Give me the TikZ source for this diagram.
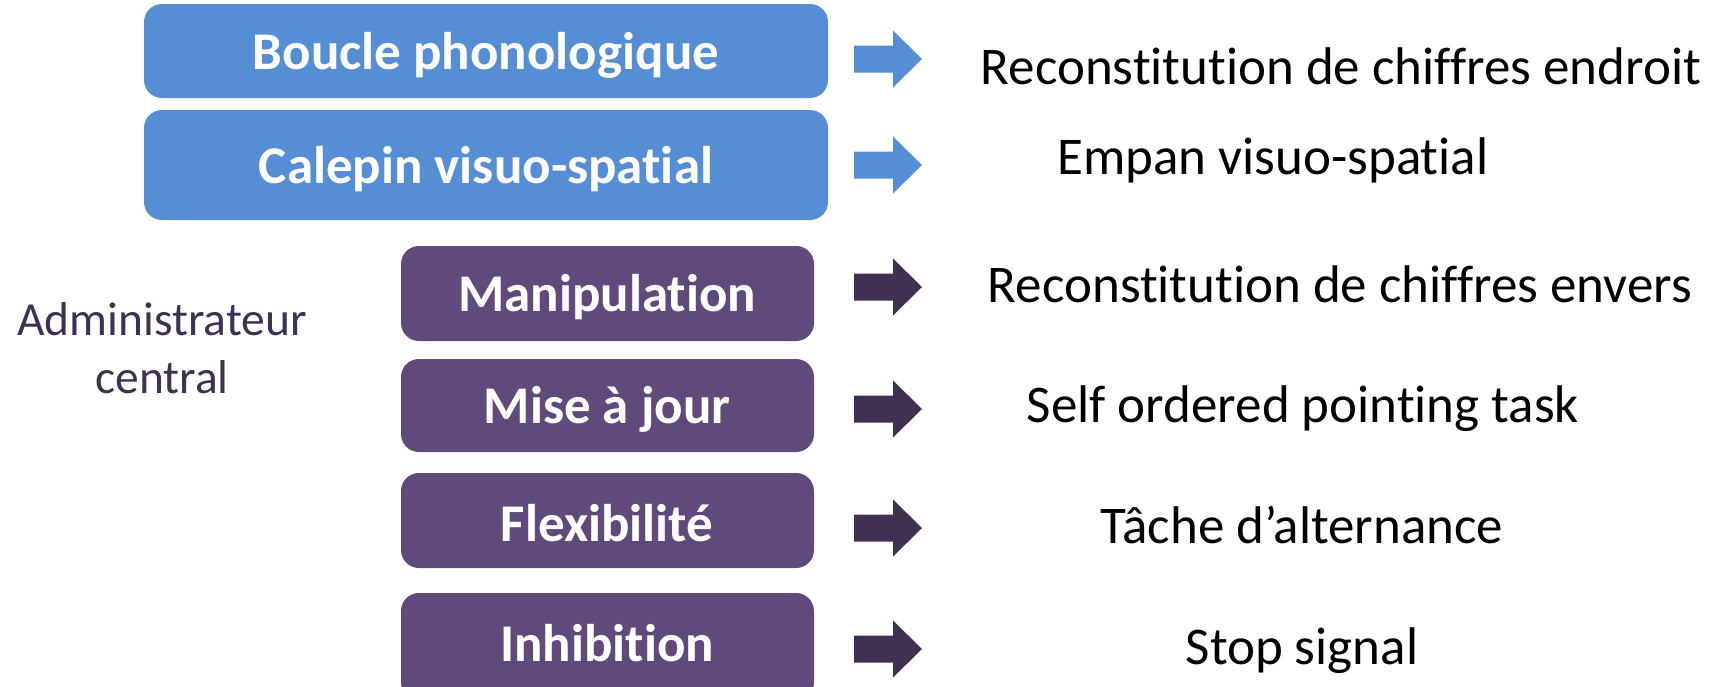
\documentclass[tikz,border=0pt]{standalone}
\usepackage{fontspec}
\setmainfont{Carlito}[Ligatures=NoCommon]
\definecolor{boxblue}{HTML}{558ED5}
\definecolor{boxpurple}{HTML}{604A7B}
\definecolor{darkpurple}{HTML}{403152}
\tikzset{
  bluebox/.style={fill=boxblue, rounded corners=18pt},
  purplebox/.style={fill=boxpurple, rounded corners=18pt},
  boxtext/.style={text=white, font=\fontsize{53}{64}\selectfont\bfseries, inner sep=0pt},
  tasktext/.style={text=black, font=\fontsize{53}{64}\selectfont, inner sep=0pt},
  admintext/.style={text=darkpurple, font=\fontsize{47.5}{58}\selectfont, align=center, inner sep=0pt},
  pics/blockarrow/.style={code={
    \fill[#1] (0,-13.5) -- (39,-13.5) -- (39,-28.5) -- (68,0) -- (39,28.5) -- (39,13.5) -- (0,13.5) -- cycle;
  }}
}
\begin{document}
\begin{tikzpicture}[x=1pt,y=-1pt]
\useasboundingbox (0,0) rectangle (1725,686);
% blue boxes
\draw[bluebox, draw=none] (144,4) rectangle (828,98);
\node[boxtext] (b1) at (486,55.5) {Boucle phonologique};
\draw[bluebox, draw=none] (144,110) rectangle (828,220);
\node[boxtext] (b2) at (486,169.5) {Calepin visuo-spatial};
% purple boxes
\draw[purplebox, draw=none] (401,246) rectangle (814,341);
\node[boxtext] (p1) at (607,297.5) {Manipulation};
\draw[purplebox, draw=none] (401,359) rectangle (814,452);
\node[boxtext] (p2) at (607,409.5) {Mise à jour};
\draw[purplebox, draw=none] (401,473) rectangle (814,568);
\node[boxtext] (p3) at (607,523) {Flexibilité};
\draw[purplebox, draw=none] (401,593) rectangle (814,700);
\node[boxtext] (p4) at (607,643.5) {Inhibition};
% admin
\node[admintext] (adm) at (162,348) {Administrateur\\central};
% arrows
\coordinate (a1) at (854,59);
\coordinate (a2) at (854,165);
\coordinate (a3) at (854,287);
\coordinate (a4) at (854,409);
\coordinate (a5) at (854,528);
\coordinate (a6) at (854,649);
\pic at (a1) {blockarrow=boxblue};
\pic at (a2) {blockarrow=boxblue};
\pic at (a3) {blockarrow=darkpurple};
\pic at (a4) {blockarrow=darkpurple};
\pic at (a5) {blockarrow=darkpurple};
\pic at (a6) {blockarrow=darkpurple};
% task texts
\node[tasktext] (t1) at (1341,66) {Reconstitution de chiffres endroit};
\node[tasktext] (t2) at (1273,160) {Empan visuo-spatial};
\node[tasktext] (t3) at (1340,284) {Reconstitution de chiffres envers};
\node[tasktext] (t4) at (1303,409) {Self ordered pointing task};
\node[tasktext] (t5) at (1302,525) {Tâche d’alternance};
\node[tasktext] (t6) at (1302,651) {Stop signal};
\end{tikzpicture}
\end{document}
